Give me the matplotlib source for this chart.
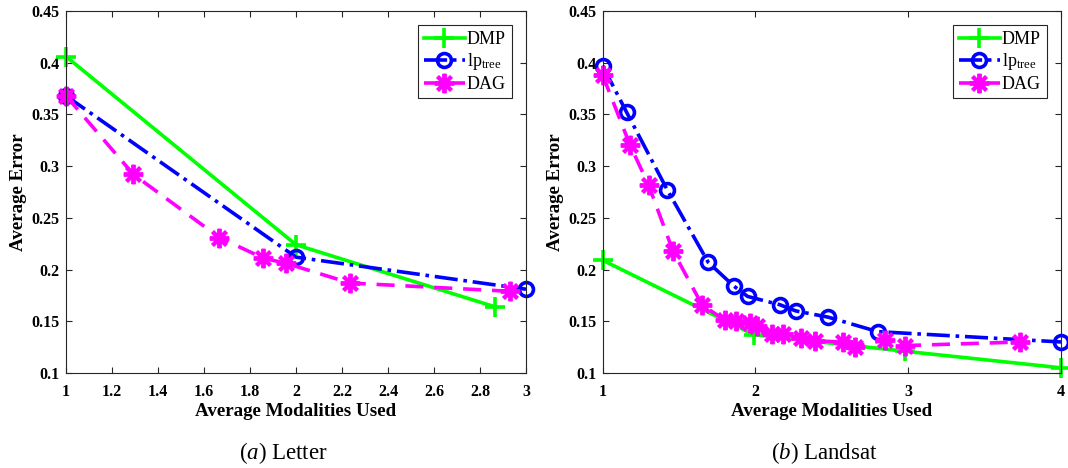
import matplotlib
matplotlib.use('Agg')
import matplotlib.pyplot as plt

plt.rcParams['font.family'] = ['Liberation Serif', 'DejaVu Serif']
plt.rcParams['mathtext.fontset'] = 'custom'
plt.rcParams['mathtext.rm'] = 'Liberation Serif'
plt.rcParams['mathtext.it'] = 'Liberation Serif:italic'

# (a) Letter
letter_dmp_x = [1.0, 2.0, 2.865]
letter_dmp_y = [0.406, 0.224, 0.164]
letter_lp_x = [1.0, 2.0, 3.0]
letter_lp_y = [0.368, 0.212, 0.181]
letter_dag_x = [1.0, 1.293, 1.667, 1.858, 1.957, 2.235, 2.93]
letter_dag_y = [0.368, 0.292, 0.231, 0.211, 0.206, 0.187, 0.179]

# (b) Landsat
landsat_dmp_x = [1.0, 1.99, 2.98, 4.0]
landsat_dmp_y = [0.209, 0.137, 0.121, 0.105]
landsat_lp_x = [1.0, 1.157, 1.423, 1.691, 1.859, 1.949, 2.16, 2.265, 2.476, 2.80, 4.0]
landsat_lp_y = [0.397, 0.352, 0.277, 0.207, 0.184, 0.174, 0.166, 0.160, 0.154, 0.140, 0.130]
landsat_dag_x = [1.0, 1.18, 1.30, 1.46, 1.65, 1.80, 1.875, 1.964, 2.01, 2.106, 2.18,
                 2.30, 2.39, 2.575, 2.65, 2.85, 2.98, 3.735]
landsat_dag_y = [0.388, 0.320, 0.282, 0.218, 0.166, 0.151, 0.150, 0.148, 0.145, 0.138, 0.138,
                 0.1335, 0.131, 0.130, 0.1255, 0.132, 0.1265, 0.130]

panels = [
    dict(dmp=(letter_dmp_x, letter_dmp_y), lp=(letter_lp_x, letter_lp_y),
         dag=(letter_dag_x, letter_dag_y), xlim=(1, 3),
         xticks=[1, 1.2, 1.4, 1.6, 1.8, 2, 2.2, 2.4, 2.6, 2.8, 3],
         caption=r'$(\mathit{a})$ Letter', rect=[0.0618, 0.203, 0.4307, 0.7735], cap_x=283),
    dict(dmp=(landsat_dmp_x, landsat_dmp_y), lp=(landsat_lp_x, landsat_lp_y),
         dag=(landsat_dag_x, landsat_dag_y), xlim=(1, 4),
         xticks=[1, 2, 3, 4],
         caption=r'$(\mathit{b})$ Landsat', rect=[0.5643, 0.203, 0.4291, 0.7735], cap_x=824),
]

yticks = [0.1, 0.15, 0.2, 0.25, 0.3, 0.35, 0.4, 0.45]

fig = plt.figure(figsize=(10.68, 4.68), dpi=100)

for p in panels:
    ax = fig.add_axes(p['rect'])
    ax.plot(*p['dmp'], color='#00ff00', linestyle='-', linewidth=2.6,
            marker='+', markersize=15, markeredgewidth=2.6, label='DMP', clip_on=False)
    ax.plot(*p['lp'], color='#0000ff', linestyle='-.', linewidth=2.6,
            marker='o', markersize=10, markerfacecolor='none', markeredgewidth=2.6,
            label=r'lp$_{\mathrm{tree}}$', clip_on=False)
    ax.plot(*p['dag'], color='#ff00ff', linestyle='--', linewidth=2.6, dashes=(5, 3),
            marker=(8, 2, 0), markersize=14, markeredgewidth=2.8, label='DAG', clip_on=False)

    ax.set_xlim(*p['xlim'])
    ax.set_ylim(0.1, 0.45)
    ax.set_xticks(p['xticks'])
    ax.set_xticklabels([f'{t:g}' for t in p['xticks']])
    ax.set_yticks(yticks)
    ax.set_yticklabels([f'{t:g}' for t in yticks])
    ax.tick_params(direction='in', top=True, right=True, length=4, width=0.8,
                   colors='#262626', labelcolor='black', labelsize=11.5)
    ax.tick_params(axis='x', pad=8)
    ax.tick_params(axis='y', pad=4.5)
    for lbl in ax.get_xticklabels() + ax.get_yticklabels():
        lbl.set_fontweight('bold')
    for s in ax.spines.values():
        s.set_color('#262626')
        s.set_linewidth(0.8)

    ax.set_xlabel('Average Modalities Used', fontsize=13.7, fontweight='bold', labelpad=2)
    ax.set_ylabel('Average Error', fontsize=13.7, fontweight='bold', labelpad=3)

    leg = ax.legend(loc='upper right', fontsize=13, handlelength=2.3, handletextpad=0.1,
                    borderpad=0.3, labelspacing=0.2, fancybox=False, framealpha=1,
                    edgecolor='#262626', borderaxespad=0.8)
    leg.get_frame().set_linewidth(0.8)

    fig.text(p['cap_x'] / 1068, 1 - 453 / 468, p['caption'], ha='center', va='center',
             fontsize=16.5)

fig.savefig('out.png', dpi=100)
